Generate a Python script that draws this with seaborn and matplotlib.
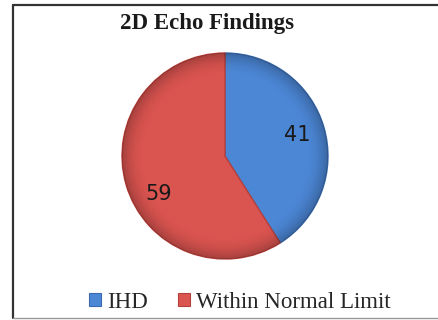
import matplotlib
matplotlib.use("Agg")
import matplotlib.pyplot as plt
from matplotlib.patches import Patch, Circle
from matplotlib.lines import Line2D
import numpy as np
import seaborn as sns

sns.set_theme(style="white")
plt.rcParams["font.family"] = ["Liberation Serif", "DejaVu Serif"]

categories = ["IHD", "Within Normal Limit"]
values = [41, 59]
colors = ["#4C87D6", "#DA5450"]
edge_colors = ["#3A6BAE", "#B8403B"]

fig = plt.figure(figsize=(4.39, 3.20), dpi=100)
fig.patch.set_facecolor("white")

# frame around the chart area
fig.add_artist(Line2D([13 / 439, 13 / 439], [2 / 320, 315 / 320], color="#333333", lw=1.6,
                      transform=fig.transFigure))
fig.add_artist(Line2D([13 / 439, 1.0], [315 / 320, 315 / 320], color="#333333", lw=1.6,
                      transform=fig.transFigure))
fig.add_artist(Line2D([13 / 439, 1.0], [2 / 320, 2 / 320], color="#999999", lw=1.0,
                      transform=fig.transFigure))

r_px = 103
cx, cy = 225, 156
ax = fig.add_axes([(cx - r_px) / 439, (320 - cy - r_px) / 320, 2 * r_px / 439, 2 * r_px / 320])

wedges, texts, autotexts = ax.pie(
    values,
    colors=colors,
    startangle=90,
    counterclock=False,
    autopct=lambda p: f"{round(p * sum(values) / 100):d}",
    pctdistance=0.73,
    wedgeprops=dict(linewidth=1.0),
    textprops=dict(fontsize=15, color="#1a1a1a", family="DejaVu Sans"),
)
for w, ec in zip(wedges, edge_colors):
    w.set_edgecolor(ec)

# place the larger slice's value a bit lower inside its wedge
ang = np.deg2rad(-150)
autotexts[1].set_position((0.74 * np.cos(ang), 0.74 * np.sin(ang)))

# soft shading toward the rim
yy, xx = np.mgrid[-1:1:300j, -1:1:300j]
rr = np.sqrt(xx ** 2 + yy ** 2)
shade = np.zeros((300, 300, 4))
shade[..., 3] = np.clip((rr - 0.78) / 0.22, 0, 1) ** 2 * 0.24
im = ax.imshow(shade, extent=(-1, 1, -1, 1), origin="lower", zorder=3)
im.set_clip_path(Circle((0, 0), 1.0, transform=ax.transData))
for t in autotexts:
    t.set_zorder(5)

ax.set_xlim(-1.0, 1.0)
ax.set_ylim(-1.0, 1.0)
ax.set_aspect("equal")
ax.axis("off")

fig.text(0.472, 0.927, "2D Echo Findings", ha="center", va="center",
         fontsize=16.5, fontweight="bold", color="#1a1a1a")

handles = [Patch(facecolor=c, edgecolor=e, linewidth=0.8) for c, e in zip(colors, edge_colors)]
fig.legend(handles, categories, loc="center", bbox_to_anchor=(0.547, 0.056), ncol=2,
           frameon=False, fontsize=16.5, handlelength=0.5, handleheight=0.5,
           handletextpad=0.3, columnspacing=1.3)

fig.savefig("out.png", dpi=100)
